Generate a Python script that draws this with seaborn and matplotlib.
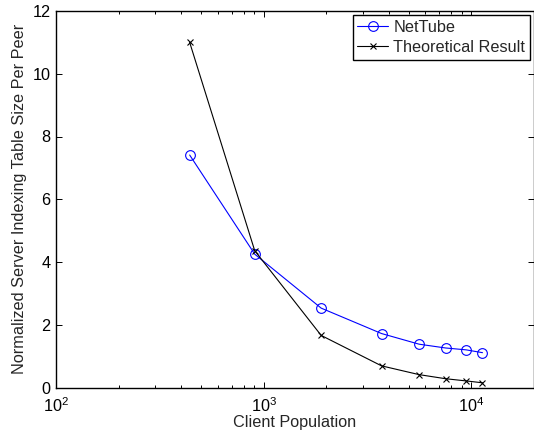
import matplotlib
matplotlib.use("Agg")
import matplotlib.pyplot as plt
import seaborn as sns
import pandas as pd
import numpy as np

# Data
population = [440, 905, 1890, 3690, 5600, 7500, 9420, 11300]
nettube = [7.41, 4.25, 2.53, 1.72, 1.38, 1.26, 1.20, 1.11]
theoretical = [11.0, 4.36, 1.66, 0.69, 0.41, 0.28, 0.21, 0.15]
series_names = ["NetTube", "Theoretical Result"]
y_ticks = [0, 2, 4, 6, 8, 10, 12]

sns.set_style("ticks")
plt.rcParams["font.family"] = ["Liberation Sans", "DejaVu Sans"]
plt.rcParams["mathtext.fontset"] = "custom"
plt.rcParams["mathtext.rm"] = "Liberation Sans"
plt.rcParams["mathtext.it"] = "Liberation Sans"
plt.rcParams["mathtext.bf"] = "Liberation Sans"

df = pd.DataFrame({
    "Client Population": population * 2,
    "value": nettube + theoretical,
    "series": [series_names[0]] * len(population) + [series_names[1]] * len(population),
})

FS = 11.7

fig = plt.figure(figsize=(5.34, 4.34), dpi=100)
ax = fig.add_axes([56 / 534, (434 - 387.5) / 434, 478 / 534, (387.5 - 11) / 434])

sns.lineplot(data=df[df.series == series_names[0]], x="Client Population", y="value",
             color="#0000ff", marker="o", markersize=7, markerfacecolor="none",
             markeredgecolor="#0000ff", markeredgewidth=0.8, linewidth=0.8,
             label=series_names[0], ax=ax, estimator=None, sort=False)
sns.lineplot(data=df[df.series == series_names[1]], x="Client Population", y="value",
             color="black", marker="x", markersize=5, markeredgecolor="black",
             markeredgewidth=0.8, linewidth=0.8, label=series_names[1], ax=ax,
             estimator=None, sort=False)

ax.set_xscale("log")
ax.set_xlim(100, 20000)
ax.set_ylim(0, 12)
ax.set_yticks(y_ticks)
ax.set_yticklabels([str(v) for v in y_ticks])
ax.set_xticks([100, 1000, 10000])
ax.set_xticklabels([r"$10^{2}$", r"$10^{3}$", r"$10^{4}$"])
ax.tick_params(axis="both", which="both", direction="in", top=True, right=True,
               labelsize=FS, colors="black", width=0.7)
ax.tick_params(axis="both", which="major", length=4)
ax.tick_params(axis="x", which="major", pad=6)
ax.tick_params(axis="y", which="major", pad=4)
ax.tick_params(axis="both", which="minor", length=2.5)
for s in ax.spines.values():
    s.set_linewidth(1.0)
    s.set_color("black")

ax.set_xlabel("Client Population", fontsize=FS, labelpad=0.5)
ax.set_ylabel("Normalized Server Indexing Table Size Per Peer", fontsize=FS, labelpad=4)

leg = ax.legend(loc="upper right", fontsize=FS, frameon=True, fancybox=False,
                edgecolor="black", borderaxespad=0.25, handlelength=1.9,
                handletextpad=0.3, borderpad=0.3, labelspacing=0.3)
leg.get_frame().set_linewidth(1.0)
leg.get_frame().set_alpha(1)

fig.savefig("out.png", dpi=100)
